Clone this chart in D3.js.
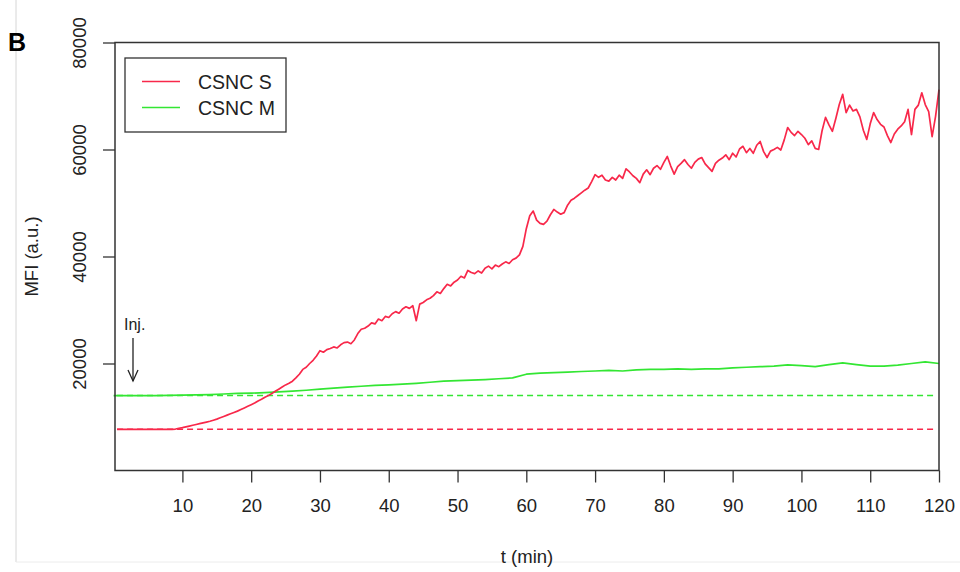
<!DOCTYPE html>
<html>
<head>
<meta charset="utf-8">
<script src="https://cdn.jsdelivr.net/npm/d3@7"></script>
<style>
  html, body { margin: 0; padding: 0; background: #fff; }
  svg { display: block; font-family: "Liberation Sans", Arial, sans-serif; }
</style>
</head>
<body>
<svg id="chart" width="960" height="572"></svg>
<script>
// ---- data -------------------------------------------------------------
// CSNC S: mean fluorescence intensity, sampled every 0.5 min (t = 0.5 … 120), in thousands
const redTimes = d3.range(0.5, 120.001, 0.5);
const redMFI = [
  7.7, 7.7, 7.7, 7.7, 7.7, 7.7, 7.7, 7.7, 7.7, 7.7,
  7.7, 7.7, 7.7, 7.7, 7.7, 7.7, 7.7, 7.75, 7.9, 8.0,
  8.15, 8.3, 8.45, 8.6, 8.75, 8.9, 9.05, 9.2, 9.4, 9.6,
  9.85, 10.1, 10.35, 10.6, 10.85, 11.1, 11.4, 11.7, 12.0, 12.3,
  12.6, 13.0, 13.3, 13.7, 14.0, 14.4, 14.8, 15.2, 15.6, 16.0,
  16.3, 16.7, 17.3, 18.0, 18.9, 19.3, 20.0, 20.6, 21.4, 22.4,
  22.1, 22.6, 22.8, 23.1, 22.9, 23.5, 23.9, 24.0, 23.7, 24.4,
  25.6, 26.4, 26.6, 27.0, 27.6, 27.4, 28.3, 28.0, 28.8, 28.6,
  29.3, 29.7, 29.4, 30.2, 30.6, 30.3, 30.8, 28.0, 31.1, 31.4,
  31.9, 32.2, 32.7, 33.4, 33.1, 34.0, 34.8, 34.5, 35.2, 35.6,
  36.3, 36.0, 37.4, 37.0, 36.8, 37.3, 36.9, 37.8, 38.2, 37.7,
  38.4, 38.1, 38.6, 39.0, 38.7, 39.4, 39.7, 40.3, 41.9, 45.2,
  47.6, 48.5, 46.8, 46.2, 46.0, 46.6, 47.8, 48.8, 48.3, 47.9,
  48.2, 49.6, 50.5, 50.9, 51.4, 51.9, 52.4, 52.8, 54.0, 55.3,
  54.8, 55.2, 54.3, 54.1, 54.8, 54.3, 55.2, 54.6, 56.4, 55.8,
  55.1, 54.6, 53.8, 55.4, 56.2, 55.3, 56.5, 57.0, 56.3, 57.6,
  58.7, 56.9, 55.4, 56.8, 57.4, 58.1, 57.2, 56.5, 57.6, 58.2,
  58.5, 57.3, 56.6, 55.9, 57.4, 58.0, 58.4, 59.0, 58.1, 59.3,
  58.6, 60.1, 60.6, 59.4, 60.2, 59.3, 60.8, 61.5, 59.6, 58.5,
  59.7, 60.0, 60.4, 59.9, 61.8, 64.1, 63.2, 62.6, 63.4, 62.8,
  62.1, 60.9, 61.6, 60.2, 60.0, 63.5, 66.0, 64.6, 63.4, 65.8,
  68.4, 70.3, 66.9, 68.3, 67.2, 67.5, 66.1, 63.6, 61.9, 64.8,
  66.9, 65.6, 64.7, 64.2, 62.6, 61.3, 62.9, 63.8, 64.4, 65.2,
  67.5, 62.8, 67.5, 68.3, 70.6, 68.4, 67.1, 62.4, 66.2, 71.2
];

// CSNC M: sampled every 2 min (t = 0 … 120), in thousands
const greenTimes = d3.range(0, 120.001, 2);
const greenMFI = [
  14.0, 14.0, 14.0, 14.0, 14.05, 14.1, 14.15, 14.2, 14.3, 14.4,
  14.45, 14.55, 14.7, 14.85, 15.0, 15.2, 15.4, 15.6, 15.75, 15.9,
  16.0, 16.15, 16.3, 16.5, 16.7, 16.8, 16.9, 17.0, 17.15, 17.3,
  18.0, 18.2, 18.3, 18.4, 18.5, 18.6, 18.7, 18.6, 18.8, 18.9,
  18.9, 19.0, 18.9, 19.0, 19.0, 19.2, 19.3, 19.4, 19.5, 19.75,
  19.6, 19.4, 19.8, 20.1, 19.8, 19.5, 19.5, 19.7, 20.0, 20.3,
  20.0
];

// Pre-injection baselines (dashed), in thousands
const baselines = [
  { name: "CSNC S", value: 7.7 },
  { name: "CSNC M", value: 14.0 }
];

const seriesNames = ["CSNC S", "CSNC M"];
const xTicks = [10, 20, 30, 40, 50, 60, 70, 80, 90, 100, 110, 120];
const yTicks = [20000, 40000, 60000, 80000];

// ---- layout -----------------------------------------------------------
const colors = { "CSNC S": "#f8284a", "CSNC M": "#33e633" };
const svg = d3.select("#chart");
const plot = { left: 115, right: 939, top: 42.5, bottom: 470.5 };

const x = d3.scaleLinear().domain([0.2, 120]).range([plot.left, plot.right]);
const y = d3.scaleLinear().domain([0, 80000]).range([plot.bottom, plot.top]);

// panel frame
svg.append("rect").attr("width", 960).attr("height", 572).attr("fill", "#fff");
svg.append("line").attr("x1", 16).attr("x2", 16).attr("y1", 0).attr("y2", 562)
  .attr("stroke", "#d6d6d6").attr("stroke-width", 1);
svg.append("line").attr("x1", 16).attr("x2", 960).attr("y1", 562).attr("y2", 562)
  .attr("stroke", "#ececec").attr("stroke-width", 1);

// ---- series -----------------------------------------------------------
const line = d3.line().x(d => x(d[0])).y(d => y(d[1] * 1000));

const redData = redTimes.map((t, i) => [t, redMFI[i]]);
const greenData = greenTimes.map((t, i) => [t, greenMFI[i]]);

// dashed baselines
baselines.forEach(b => {
  svg.append("line")
    .attr("x1", x(redTimes[0])).attr("x2", x(119.5))
    .attr("y1", y(b.value * 1000)).attr("y2", y(b.value * 1000))
    .attr("stroke", colors[b.name]).attr("stroke-width", 1.5)
    .attr("stroke-dasharray", "6,4");
});

svg.append("path").datum(greenData).attr("d", line)
  .attr("fill", "none").attr("stroke", colors["CSNC M"]).attr("stroke-width", 1.7)
  .attr("stroke-linejoin", "round");
svg.append("path").datum(redData).attr("d", line)
  .attr("fill", "none").attr("stroke", colors["CSNC S"]).attr("stroke-width", 1.7)
  .attr("stroke-linejoin", "round");

// ---- axes -------------------------------------------------------------
const axisColor = "#333";
const xAxis = svg.append("g")
  .attr("transform", `translate(0,${plot.bottom})`)
  .call(d3.axisBottom(x).tickValues(xTicks).tickSize(12).tickPadding(16).tickFormat(d3.format("d")));
xAxis.select(".domain").remove();
xAxis.selectAll("line").attr("stroke", axisColor).attr("stroke-width", 1.3);
xAxis.selectAll("text").attr("font-size", 18.5).attr("fill", "#222")
  .attr("font-family", "Liberation Sans, Arial, sans-serif");

const yAxis = svg.append("g")
  .attr("transform", `translate(${plot.left},0)`)
  .call(d3.axisLeft(y).tickValues(yTicks).tickSize(12).tickFormat(d3.format("d")));
yAxis.select(".domain").remove();
yAxis.selectAll("line").attr("stroke", axisColor).attr("stroke-width", 1.3);
yAxis.selectAll("text")
  .attr("x", null).attr("dy", null)
  .attr("text-anchor", "middle")
  .attr("transform", "translate(-29.5,0) rotate(-90)")
  .attr("font-size", 18.5).attr("fill", "#222")
  .attr("font-family", "Liberation Sans, Arial, sans-serif");

// plot box
svg.append("rect")
  .attr("x", plot.left).attr("y", plot.top)
  .attr("width", plot.right - plot.left).attr("height", plot.bottom - plot.top)
  .attr("fill", "none").attr("stroke", axisColor).attr("stroke-width", 1.5);

// axis titles
svg.append("text").attr("x", 527).attr("y", 563).attr("text-anchor", "middle")
  .attr("font-size", 18.5).attr("fill", "#222").text("t (min)");
svg.append("text").attr("transform", `translate(38,${(plot.top + plot.bottom) / 2}) rotate(-90)`)
  .attr("text-anchor", "middle").attr("font-size", 18.5).attr("fill", "#222").text("MFI (a.u.)");

// panel letter
svg.append("text").attr("x", 8).attr("y", 51).attr("font-size", 25)
  .attr("font-weight", "bold").attr("fill", "#000").text("B");

// ---- legend -----------------------------------------------------------
const legend = svg.append("g");
legend.append("rect").attr("x", 125).attr("y", 58).attr("width", 161).attr("height", 74)
  .attr("fill", "#fff").attr("stroke", axisColor).attr("stroke-width", 1.3);
seriesNames.forEach((name, i) => {
  const ly = 81.5 + i * 26;
  legend.append("line").attr("x1", 142).attr("x2", 180).attr("y1", ly).attr("y2", ly)
    .attr("stroke", colors[name]).attr("stroke-width", 1.7);
  legend.append("text").attr("x", 198).attr("y", ly + 7)
    .attr("font-size", 19.5).attr("fill", "#222").text(name);
});

// ---- injection marker -------------------------------------------------
svg.append("text").attr("x", 124).attr("y", 330).attr("font-size", 16)
  .attr("fill", "#222").text("Inj.");
svg.append("line").attr("x1", 133).attr("x2", 133).attr("y1", 338).attr("y2", 381)
  .attr("stroke", "#222").attr("stroke-width", 1.3);
svg.append("path").attr("d", "M128,370 L133,381 L138,370")
  .attr("fill", "none").attr("stroke", "#222").attr("stroke-width", 1.3);
</script>
</body>
</html>
